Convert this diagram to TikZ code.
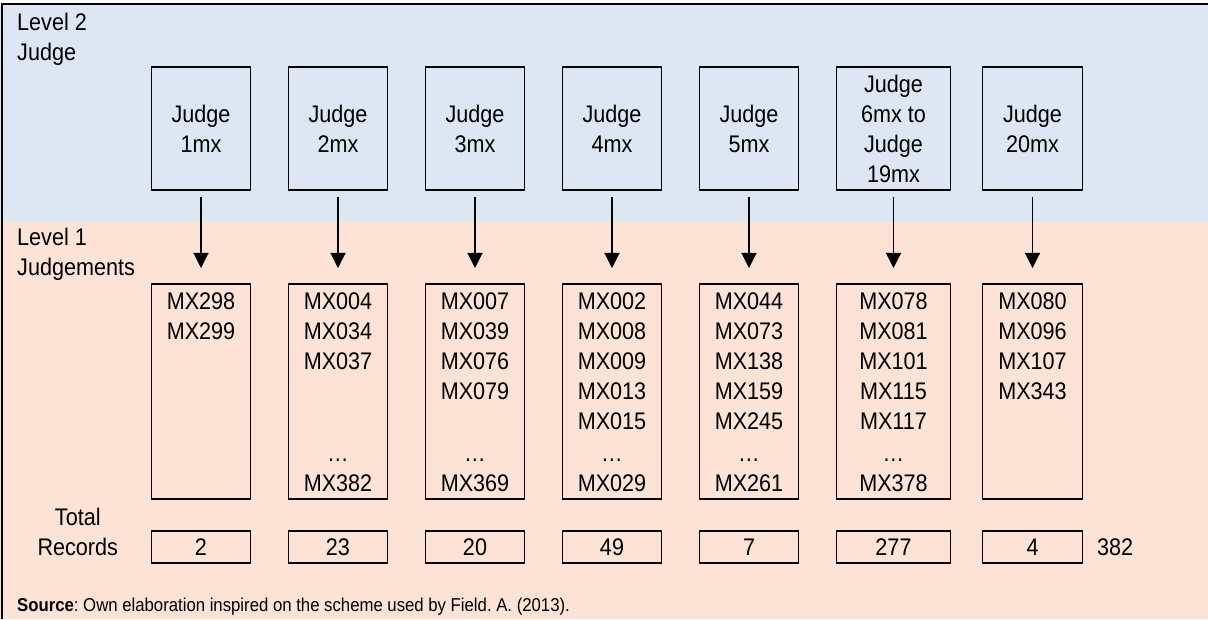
\documentclass[tikz,border=0pt]{standalone}
\usepackage{fontspec}
\setmainfont[FakeStretch=0.9]{Liberation Sans}
\usepackage{tikz}
\usetikzlibrary{arrows.meta, positioning}
\definecolor{topblue}{HTML}{DCE7F3}
\definecolor{lowpink}{HTML}{FCE3D6}
\frenchspacing

\begin{document}
\begin{tikzpicture}[
        x=1pt, y=1pt,
        node distance=94pt and 38pt,
        judgebox/.style={draw, line width=1.8pt, outer sep=0pt, minimum width=99pt, minimum height=123pt, align=center, font=\fontsize{24}{30}\selectfont},
        recbox/.style={draw, line width=1.8pt, outer sep=0pt, minimum width=99pt, minimum height=215pt},
        totbox/.style={draw, line width=1.8pt, outer sep=0pt, minimum width=99pt, minimum height=32pt, font=\fontsize{24}{30}\selectfont},
        lbl/.style={align=center, font=\fontsize{24}{30}\selectfont},
        arr/.style={-{Triangle[width=15pt,length=15pt]}, line width=1.1pt, shorten <=7pt, shorten >=16pt}
        ]
        \useasboundingbox (0,0) rectangle (1208,619);

        % Background
        \fill[lowpink] (0,0) rectangle (1208,397);
        \fill[topblue] (0,397) rectangle (1208,615);
        \draw[line width=2.5pt] (1208,615) -- (2,615) -- (2,0);

        % Level 2
        \node[lbl, align=left, anchor=north west, inner sep=4pt] (lvtwo) at (13,610) {Level 2\\Judge};
        \node[judgebox] (j1) at (201,490.5) {Judge\\1mx};
        \node[judgebox, right=of j1] (j2) {Judge\\2mx};
        \node[judgebox, right=of j2] (j3) {Judge\\3mx};
        \node[judgebox, right=of j3] (j4) {Judge\\4mx};
        \node[judgebox, right=of j4] (j5) {Judge\\5mx};
        \node[judgebox, right=of j5, minimum width=114pt] (j6) {Judge\\6mx to\\Judge\\19mx};
        \node[judgebox, right=32pt of j6, minimum width=100pt] (j7) {Judge\\20mx};

        % Level 1
        \node[lbl, align=left, anchor=north west, inner sep=4pt] (lvone) at (13,395) {Level 1\\Judgements};
        \node[recbox, below=of j1] (r1) {};
        \node[recbox, below=of j2] (r2) {};
        \node[recbox, below=of j3] (r3) {};
        \node[recbox, below=of j4] (r4) {};
        \node[recbox, below=of j5] (r5) {};
        \node[recbox, below=of j6, minimum width=114pt] (r6) {};
        \node[recbox, below=of j7, minimum width=100pt] (r7) {};

        % Records listed
        \node[lbl, anchor=north, inner sep=9pt] at (r1.north) {MX298\\MX299};
        \node[lbl, anchor=north, inner sep=9pt] at (r2.north) {MX004\\MX034\\MX037};
        \node[lbl, anchor=south, inner sep=7pt] at (r2.south) {\dots\\MX382};
        \node[lbl, anchor=north, inner sep=9pt] at (r3.north) {MX007\\MX039\\MX076\\MX079};
        \node[lbl, anchor=south, inner sep=7pt] at (r3.south) {\dots\\MX369};
        \node[lbl, anchor=north, inner sep=9pt] at (r4.north) {MX002\\MX008\\MX009\\MX013\\MX015};
        \node[lbl, anchor=south, inner sep=7pt] at (r4.south) {\dots\\MX029};
        \node[lbl, anchor=north, inner sep=9pt] at (r5.north) {MX044\\MX073\\MX138\\MX159\\MX245};
        \node[lbl, anchor=south, inner sep=7pt] at (r5.south) {\dots\\MX261};
        \node[lbl, anchor=north, inner sep=9pt] at (r6.north) {MX078\\MX081\\MX101\\MX115\\MX117};
        \node[lbl, anchor=south, inner sep=7pt] at (r6.south) {\dots\\MX378};
        \node[lbl, anchor=north, inner sep=9pt] at (r7.north) {MX080\\MX096\\MX107\\MX343};

        % Totals
        \node[totbox, below=32pt of r1] (t1) {2};
        \node[totbox, below=32pt of r2] (t2) {23};
        \node[totbox, below=32pt of r3] (t3) {20};
        \node[totbox, below=32pt of r4] (t4) {49};
        \node[totbox, below=32pt of r5] (t5) {7};
        \node[totbox, below=32pt of r6, minimum width=114pt] (t6) {277};
        \node[totbox, below=32pt of r7, minimum width=100pt] (t7) {4};
        \node[lbl, left=30pt of t1, yshift=15pt] (tot) {Total\\Records};
        \node[lbl, right=11pt of t7] (sum) {382};

        % Source
        \node[anchor=base west, inner sep=0pt, font=\fontsize{18.6}{22}\selectfont] (src) at (17,8) {\textbf{Source}: Own elaboration inspired on the scheme used by Field. A. (2013).};

        % Arrows
        \draw[arr] (j1) -- (r1);
        \draw[arr] (j2) -- (r2);
        \draw[arr] (j3) -- (r3);
        \draw[arr] (j4) -- (r4);
        \draw[arr] (j5) -- (r5);
        \draw[arr] (j6) -- (r6);
        \draw[arr] (j7) -- (r7);

\end{tikzpicture}
\end{document}
